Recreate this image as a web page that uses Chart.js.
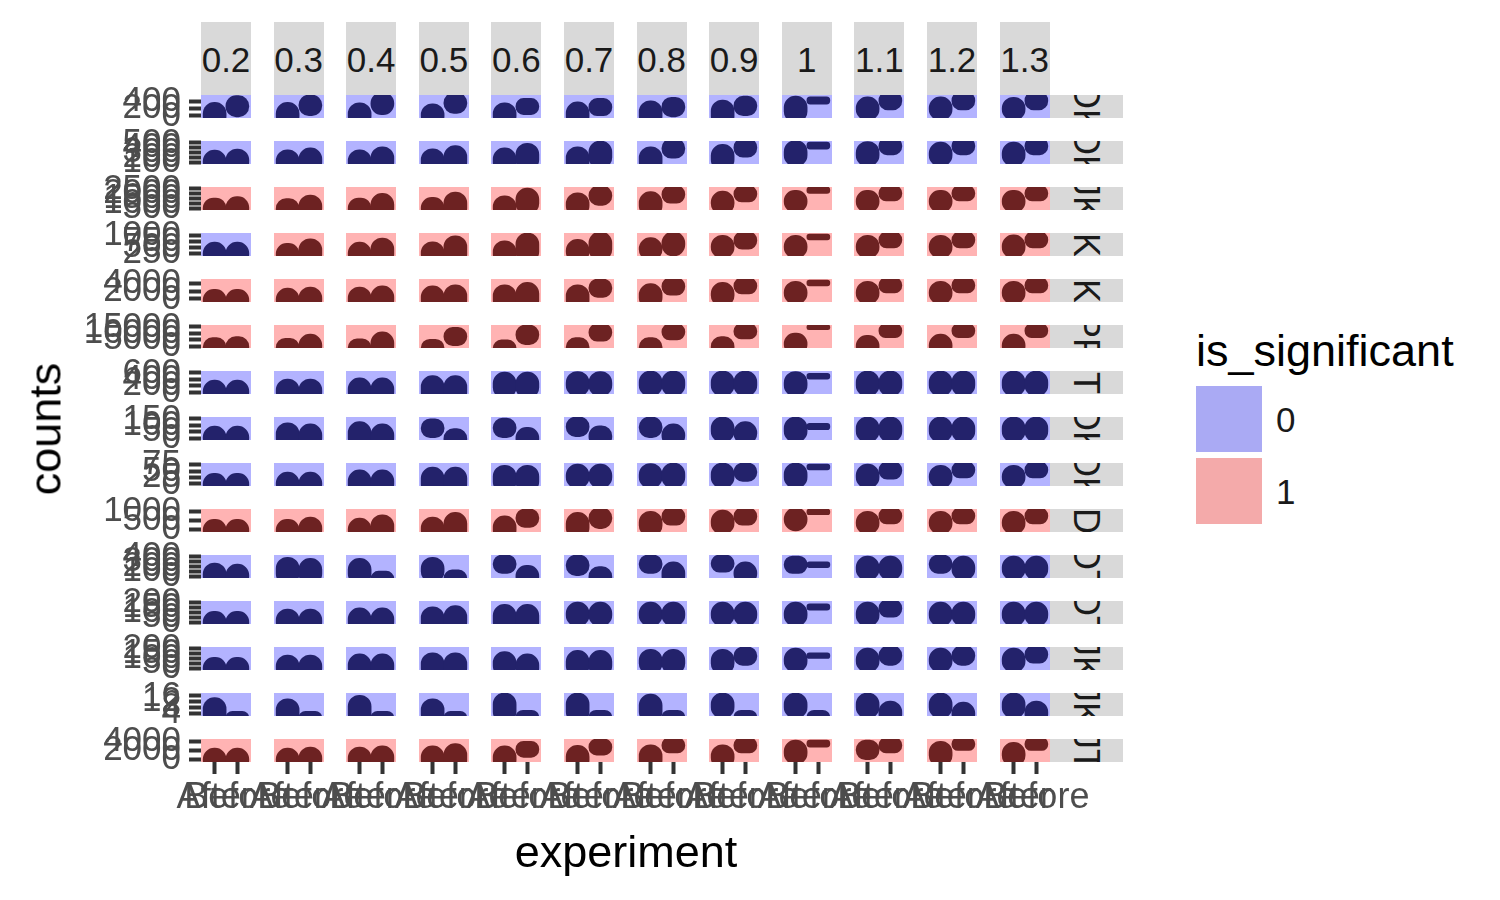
<!DOCTYPE html>
<html>
<head>
<meta charset="utf-8">
<script src="https://cdn.jsdelivr.net/npm/chart.js@4.4.1/dist/chart.umd.min.js"></script>
<style>
  body { margin: 0; width: 1500px; height: 900px; background: #fff; overflow: hidden;
         font-family: "Liberation Sans", Arial, sans-serif; }
  #plot { position: relative; width: 1500px; height: 900px; }
  canvas { position: absolute; }
  .strip-top { position: absolute; background: #d9d9d9; color: #1a1a1a; font-size: 35px;
               display: flex; align-items: center; justify-content: center; padding-top: 3px; box-sizing: border-box; }
  .strip-right { position: absolute; background: #d9d9d9; color: #1a1a1a; font-size: 36px; overflow: hidden; }
  .strip-right span { position: absolute; left: 50%; top: 50%; white-space: nowrap; line-height: 1;
                      transform: translate(-50%, -50%) rotate(90deg); }
  .title { position: absolute; color: #000; font-size: 45px; white-space: nowrap; line-height: 1; }
  .key { position: absolute; width: 66px; height: 66px; }
  .keylab { position: absolute; font-size: 35px; color: #1a1a1a; line-height: 1; }
</style>
</head>
<body>
<div id="plot"></div>
<script>
const thresholds = ['0.2', '0.3', '0.4', '0.5', '0.6', '0.7', '0.8', '0.9', '1', '1.1', '1.2', '1.3'];
const groups = ['OK', 'OK', 'JK', 'K', 'K', 'PF', 'T', 'OK', 'OK', 'D', 'OT', 'OT', 'JK', 'JK', 'JT'];
const experiments = ['After', 'Before'];

// is_significant per row (group) and column (threshold)
const significant = [
    [0,0,0,0,0,0,0,0,0,0,0,0],
    [0,0,0,0,0,0,0,0,0,0,0,0],
    [1,1,1,1,1,1,1,1,1,1,1,1],
    [0,1,1,1,1,1,1,1,1,1,1,1],
    [1,1,1,1,1,1,1,1,1,1,1,1],
    [1,1,1,1,1,1,1,1,1,1,1,1],
    [0,0,0,0,0,0,0,0,0,0,0,0],
    [0,0,0,0,0,0,0,0,0,0,0,0],
    [0,0,0,0,0,0,0,0,0,0,0,0],
    [1,1,1,1,1,1,1,1,1,1,1,1],
    [0,0,0,0,0,0,0,0,0,0,0,0],
    [0,0,0,0,0,0,0,0,0,0,0,0],
    [0,0,0,0,0,0,0,0,0,0,0,0],
    [0,0,0,0,0,0,0,0,0,0,0,0],
    [1,1,1,1,1,1,1,1,1,1,1,1]
];

// y range (counts) of each row and its tick values
const rowRange = [
    [-58, 587], [60, 540], [300, 2700], [150, 1100], [-800, 5200],
    [-1500, 16500], [-60, 660], [-15, 165], [-8, 82], [-150, 1150],
    [-30, 430], [-15, 215], [-15, 215], [2, 18], [-600, 4600]
];
const rowTicks = [
    [0, 200, 400], [100, 200, 300, 400, 500], [500, 1000, 1500, 2000, 2500], [250, 500, 750, 1000], [0, 2000, 4000],
    [0, 5000, 10000, 15000], [0, 200, 400, 600], [0, 50, 100, 150], [0, 25, 50, 75], [0, 500, 1000],
    [0, 100, 200, 300, 400], [0, 50, 100, 150, 200], [0, 50, 100, 150, 200], [4, 8, 12, 16], [0, 2000, 4000]
];

// counts spread (share of the row range, low/high) for After and Before
const afterSpread = [
    [[-.4,.68],[-.4,.68],[-.4,.66],[-.4,.62],[-.4,.66],[-.4,.7],[-.4,.75],[-.4,.78],[-.2,.95],[-.1,.92],[-.1,.92],[-.1,.9]],
    [[-.4,.6],[-.4,.62],[-.4,.62],[-.4,.66],[-.4,.7],[-.4,.75],[-.4,.75],[-.3,.85],[-.1,1.02],[-.1,.98],[-.1,.95],[-.1,.95]],
    [[-.4,.52],[-.4,.5],[-.4,.52],[-.4,.55],[-.4,.62],[-.3,.75],[-.3,.8],[-.2,.82],[-.1,.85],[-.1,.85],[-.1,.85],[-.1,.85]],
    [[-.4,.6],[-.4,.55],[-.4,.6],[-.4,.62],[-.4,.66],[-.3,.72],[-.2,.8],[-.1,.9],[-.1,.9],[-.1,.9],[-.1,.9],[-.1,.92]],
    [[-.4,.55],[-.4,.6],[-.4,.65],[-.4,.7],[-.4,.75],[-.4,.75],[-.3,.8],[-.2,.85],[-.1,.9],[-.1,.9],[-.1,.9],[-.1,.9]],
    [[-.4,.45],[-.4,.42],[-.4,.4],[-.4,.38],[-.4,.35],[-.4,.45],[-.4,.45],[-.4,.5],[-.3,.65],[-.4,.55],[-.4,.6],[-.4,.6]],
    [[-.4,.6],[-.4,.65],[-.4,.7],[-.4,.8],[-.2,.95],[-.1,.98],[-.1,1],[-.1,1],[-.1,.98],[-.1,1],[-.1,1],[-.1,1]],
    [[-.4,.6],[-.4,.75],[-.4,.8],[.1,.92],[.1,.95],[.15,1],[.1,1],[-.1,1],[-.1,1],[-.1,1],[-.1,1],[-.1,1]],
    [[-.4,.55],[-.4,.6],[-.4,.7],[-.4,.82],[-.3,.9],[-.1,.95],[-.1,.98],[-.1,1],[-.1,1],[-.1,.95],[-.1,.9],[-.1,.9]],
    [[-.4,.55],[-.4,.55],[-.4,.6],[-.4,.65],[-.4,.7],[-.3,.85],[-.2,.9],[-.1,.95],[.05,1.05],[-.1,.9],[-.1,.9],[-.1,.9]],
    [[-.4,.65],[-.3,.9],[-.3,.85],[-.2,.9],[.2,1],[.1,1],[.2,1],[.25,1],[.2,.95],[-.1,.95],[.2,1],[-.1,.95]],
    [[-.4,.55],[-.4,.65],[-.4,.7],[-.4,.75],[-.4,.85],[-.1,.95],[-.1,.95],[-.1,.95],[-.1,.95],[-.1,.95],[-.1,.95],[-.1,.95]],
    [[-.4,.55],[-.4,.65],[-.4,.7],[-.4,.75],[-.3,.8],[-.3,.85],[-.2,.9],[-.2,.9],[-.1,.95],[-.1,.95],[-.1,.95],[-.1,.95]],
    [[-.4,.8],[-.4,.75],[-.4,.9],[-.4,.75],[-.3,1],[-.3,1],[-.3,.95],[-.1,1],[-.1,1],[-.1,1],[-.1,1],[-.1,1]],
    [[-.4,.6],[-.4,.6],[-.4,.65],[-.4,.7],[-.4,.7],[-.4,.72],[-.4,.75],[-.3,.75],[-.1,.95],[.1,.95],[-.2,.9],[-.2,.85]]
];
const beforeSpread = [
    [[.05,.97],[.1,1],[.15,1.1],[.2,1.1],[.15,.85],[.1,.85],[.05,.9],[.1,.95],[.6,.92],[.35,1.15],[.35,1.15],[.35,1.15]],
    [[-.4,.65],[-.4,.7],[-.4,.75],[-.4,.8],[-.3,.9],[-.2,1],[.25,1.1],[.3,1.12],[.65,.95],[.4,1.15],[.4,1.15],[.4,1.15]],
    [[-.4,.58],[-.4,.65],[-.4,.72],[-.4,.78],[-.2,.95],[.2,1.05],[.3,1.05],[.35,1.05],[.72,1],[.4,1.05],[.4,1.05],[.4,1.05]],
    [[-.4,.6],[-.4,.75],[-.4,.78],[-.4,.88],[-.3,1],[-.2,1.05],[0,1.05],[.3,1.05],[.7,.95],[.35,1.05],[.35,1.05],[.35,1.05]],
    [[-.4,.55],[-.4,.65],[-.4,.7],[-.4,.75],[-.4,.85],[.2,1],[.3,1.05],[.35,1.05],[.7,.95],[.4,1.05],[.4,1.05],[.4,1.05]],
    [[-.4,.5],[-.4,.6],[-.4,.7],[.1,.9],[.15,1],[.3,1.05],[.35,1.05],[.4,1.05],[.8,1],[.45,1.05],[.45,1.05],[.45,1.05]],
    [[-.4,.6],[-.4,.65],[-.4,.7],[-.4,.8],[-.2,.95],[-.1,.98],[-.1,1],[-.1,1],[.65,.9],[-.1,1],[-.1,1],[-.1,1]],
    [[-.4,.6],[-.4,.7],[-.4,.7],[-.4,.5],[-.4,.55],[-.3,.62],[-.3,.7],[-.2,.8],[.45,.72],[-.1,1],[-.1,1],[-.1,1]],
    [[-.4,.55],[-.4,.6],[-.4,.7],[-.4,.82],[-.3,.9],[-.1,.95],[-.1,1],[.2,1],[.7,.95],[.3,1.05],[.35,1.05],[.35,1.05]],
    [[-.4,.55],[-.4,.65],[-.4,.75],[-.4,.85],[.2,1],[.15,1.05],[.3,1.05],[.3,1.05],[.75,1],[.35,1.05],[.35,1.05],[.35,1.05]],
    [[-.4,.6],[-.3,.85],[-.4,.3],[-.4,.35],[-.4,.55],[-.4,.5],[-.4,.7],[-.3,.7],[.45,.7],[-.1,.95],[-.1,.95],[-.1,.95]],
    [[-.4,.55],[-.4,.65],[-.4,.7],[-.4,.8],[-.4,.85],[-.1,.95],[-.1,.95],[-.1,.95],[.6,.88],[.3,1.05],[-.1,.95],[-.1,.95]],
    [[-.4,.55],[-.4,.65],[-.4,.7],[-.4,.75],[-.4,.7],[-.3,.85],[-.2,.9],[.2,1],[.5,.75],[.2,1.05],[.2,1.05],[.3,1.05]],
    [[-.4,.2],[-.4,.2],[-.4,.2],[-.4,.2],[-.4,.25],[-.4,.25],[-.4,.25],[-.4,.25],[-.4,.25],[-.4,.65],[-.4,.6],[-.4,.65]],
    [[-.4,.6],[-.4,.65],[-.4,.7],[-.4,.8],[.2,.9],[.3,1],[.4,1.05],[.4,1.05],[.65,.95],[.4,1.05],[.5,1.05],[.5,1.05]]
];

const panelBg = ['#b3b3ff', '#ffb3b3'];
const blobColor = ['#23226b', '#6d2222'];
const keyColor = ['#aaaaf4', '#f4aaaa'];
const FONT = '"Liberation Sans", Arial, sans-serif';

// facet grid geometry
const X0 = 201, PW = 50, XSTEP = 72.6;
const Y0 = 95, PH = 23, YSTEP = 46;
const AXIS_W = 201, X_AXIS_H = 60, PAD_V = 34, PAD_H = 75;

const plot = document.getElementById('plot');

const panelBackground = {
    id: 'panelBackground',
    beforeDraw(chart, args, opts) {
        const a = chart.chartArea;
        const ctx = chart.ctx;
        ctx.save();
        ctx.fillStyle = opts.color;
        ctx.fillRect(a.left, a.top, a.right - a.left, a.bottom - a.top);
        ctx.restore();
    }
};

const makePanel = (r, c) => {
    const isLeft = c === 0;
    const isBottom = r === groups.length - 1;
    const left = X0 + c * XSTEP;
    const top = Y0 + r * YSTEP;
    const padL = isLeft ? 0 : (isBottom ? PAD_H : 0);
    const padR = isBottom ? PAD_H : 0;
    const padT = isLeft ? PAD_V : 0;
    const padB = isBottom ? 0 : (isLeft ? PAD_V : 0);
    const cx = isLeft ? 0 : left - padL;
    const cw = (isLeft ? left + PW : PW + padL) + padR;
    const cy = top - padT;
    const ch = padT + PH + (isBottom ? X_AXIS_H : padB);

    const canvas = document.createElement('canvas');
    canvas.width = Math.round(cw);
    canvas.height = ch;
    canvas.style.left = cx + 'px';
    canvas.style.top = cy + 'px';
    plot.appendChild(canvas);

    const sig = significant[r][c];
    const [lo, hi] = rowRange[r];
    const tickVals = rowTicks[r];

    new Chart(canvas, {
        type: 'bar',
        data: {
            datasets: [{
                data: [
                    { x: 1, y: afterSpread[r][c] },
                    { x: 2, y: beforeSpread[r][c] }
                ],
                backgroundColor: blobColor[sig],
                borderRadius: 12,
                borderSkipped: false,
                barThickness: 23,
                clip: 0
            }]
        },
        options: {
            animation: false,
            responsive: false,
            devicePixelRatio: 1,
            events: [],
            layout: { autoPadding: false, padding: { left: padL, right: padR, top: padT, bottom: padB } },
            plugins: {
                legend: { display: false },
                tooltip: { enabled: false },
                panelBackground: { color: panelBg[sig] }
            },
            scales: {
                x: {
                    type: 'linear',
                    min: 0.4,
                    max: 2.6,
                    offset: false,
                    display: isBottom,
                    afterBuildTicks: s => { s.ticks = [{ value: 1 }, { value: 2 }]; },
                    afterFit: s => { s.height = isBottom ? X_AXIS_H : 0; },
                    border: { display: false },
                    grid: { offset: false, drawOnChartArea: false, tickLength: 12, tickWidth: 4, tickColor: '#333333' },
                    ticks: {
                        autoSkip: false, maxRotation: 0, minRotation: 0, padding: 2,
                        color: '#4d4d4d', font: { family: FONT, size: 36 },
                        callback: v => experiments[v - 1]
                    }
                },
                y: {
                    min: 0,
                    max: 1,
                    display: isLeft,
                    afterBuildTicks: s => { s.ticks = tickVals.map(v => ({ value: (v - lo) / (hi - lo) })); },
                    afterFit: s => { s.width = isLeft ? AXIS_W : 0; },
                    border: { display: false },
                    grid: { drawOnChartArea: false, tickLength: 12, tickWidth: 4, tickColor: '#333333' },
                    ticks: {
                        autoSkip: false, padding: 8,
                        color: '#4d4d4d', font: { family: FONT, size: 35 },
                        callback: (v, i) => String(tickVals[i])
                    }
                }
            }
        },
        plugins: [panelBackground]
    });
};

// top strips
thresholds.forEach((t, c) => {
    const d = document.createElement('div');
    d.className = 'strip-top';
    d.style.left = (X0 + c * XSTEP) + 'px';
    d.style.top = '22px';
    d.style.width = PW + 'px';
    d.style.height = (Y0 - 22) + 'px';
    d.textContent = t;
    plot.appendChild(d);
});

// right strips
groups.forEach((g, r) => {
    const d = document.createElement('div');
    d.className = 'strip-right';
    d.style.left = (X0 + 11 * XSTEP + PW) + 'px';
    d.style.top = (Y0 + r * YSTEP) + 'px';
    d.style.width = '73px';
    d.style.height = PH + 'px';
    const s = document.createElement('span');
    s.textContent = g;
    d.appendChild(s);
    plot.appendChild(d);
});

for (let r = 0; r < groups.length; r++) {
    for (let c = 0; c < thresholds.length; c++) {
        makePanel(r, c);
    }
}

// axis titles
const xTitle = document.createElement('div');
xTitle.className = 'title';
xTitle.textContent = 'experiment';
xTitle.style.left = '626px';
xTitle.style.top = '851px';
xTitle.style.transform = 'translate(-50%, -50%)';
plot.appendChild(xTitle);

const yTitle = document.createElement('div');
yTitle.className = 'title';
yTitle.textContent = 'counts';
yTitle.style.left = '45px';
yTitle.style.top = '429px';
yTitle.style.transform = 'translate(-50%, -50%) rotate(-90deg)';
plot.appendChild(yTitle);

// legend
const legTitle = document.createElement('div');
legTitle.className = 'title';
legTitle.textContent = 'is_significant';
legTitle.style.left = '1196px';
legTitle.style.top = '350px';
legTitle.style.transform = 'translateY(-50%)';
plot.appendChild(legTitle);

['0', '1'].forEach((lab, i) => {
    const k = document.createElement('div');
    k.className = 'key';
    k.style.left = '1196px';
    k.style.top = (386 + i * 72) + 'px';
    k.style.background = keyColor[i];
    plot.appendChild(k);
    const t = document.createElement('div');
    t.className = 'keylab';
    t.textContent = lab;
    t.style.left = '1276px';
    t.style.top = (419 + i * 72) + 'px';
    t.style.transform = 'translateY(-50%)';
    plot.appendChild(t);
});
</script>
</body>
</html>
